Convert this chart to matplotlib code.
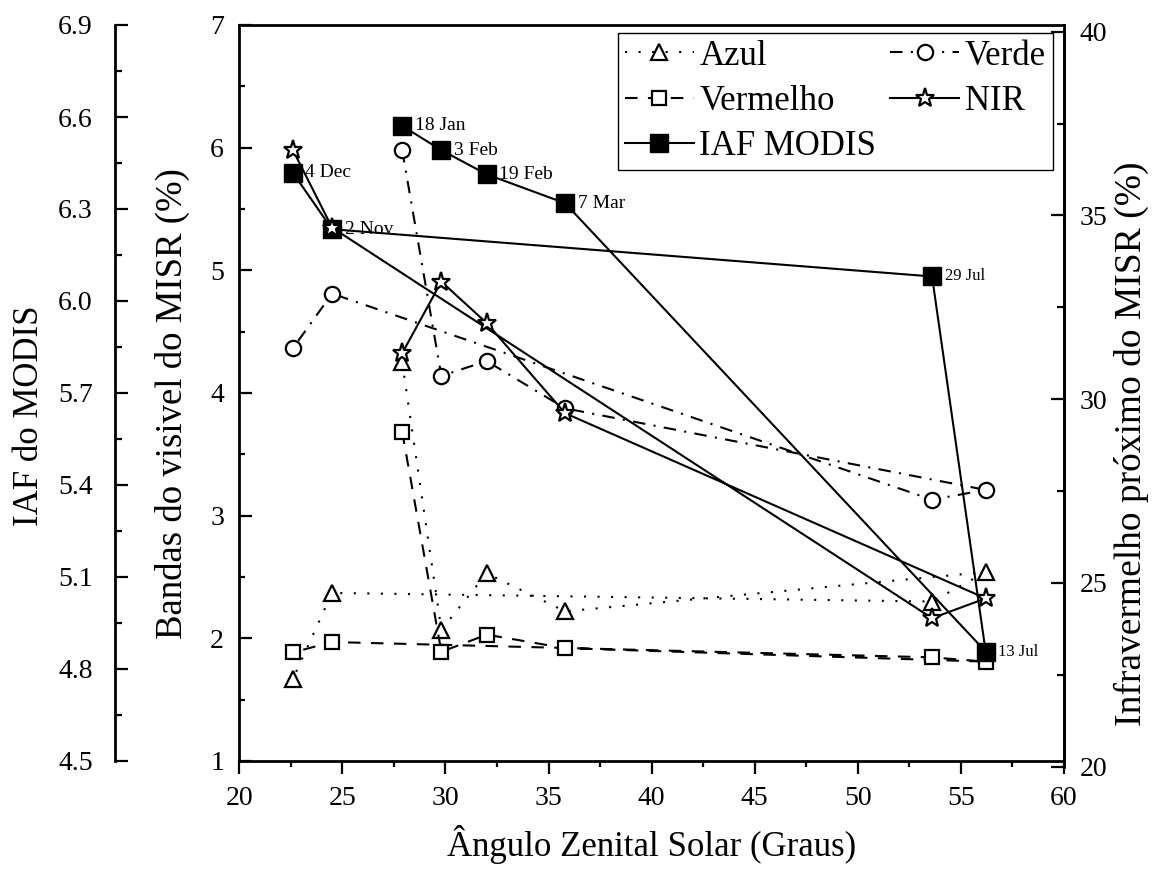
import matplotlib
matplotlib.use('Agg')
import matplotlib.pyplot as plt
from matplotlib.ticker import MultipleLocator, FormatStrFormatter

plt.rcParams['font.family'] = ['Liberation Serif', 'DejaVu Serif']

# dados (ordem cronologica das imagens)
datas = ['18 Jan', '3 Feb', '19 Feb', '7 Mar', '13 Jul', '29 Jul', '2 Nov', '4 Dec']
angulo = [27.9, 29.8, 32.0, 35.8, 56.2, 53.6, 24.5, 22.6]
azul = [4.25, 2.07, 2.53, 2.22, 2.54, 2.30, 2.37, 1.67]
verde = [5.98, 4.14, 4.26, 3.875, 3.21, 3.13, 4.81, 4.365]
vermelho = [3.685, 1.89, 2.03, 1.92, 1.81, 1.845, 1.97, 1.885]
nir = [31.25, 33.2, 32.07, 29.62, 24.58, 24.04, 34.67, 36.78]
iaf = [6.571, 6.492, 6.413, 6.319, 4.857, 6.08, 6.234, 6.418]
tam_rotulo = [14, 14, 14, 14, 12, 12, 14, 14]

W, H = 1152, 869
fig = plt.figure(figsize=(W / 100, H / 100), dpi=100)

L, R, T, B = 239.3, 1064.0, 25.0, 761.0
ax = fig.add_axes([L / W, 1 - B / H, (R - L) / W, (B - T) / H])
ax_iaf = ax.twinx()
ax_nir = fig.add_axes([L / W, 1 - 766.7 / H, (R - L) / W, (766.7 - 31.7) / H])

lw = 1.5
ms_open = 11
mew = 1.6

# bandas do visivel
l_az, = ax.plot(angulo, azul, color='black', lw=lw, ls=(0, (1, 5.5)), marker='^',
                ms=ms_open, mfc='white', mec='black', mew=mew, label='Azul')
l_vd, = ax.plot(angulo, verde, color='black', lw=lw, ls=(0, (6, 4, 1, 4)), marker='o',
                ms=ms_open, mfc='white', mec='black', mew=mew, label='Verde')
l_vm, = ax.plot(angulo, vermelho, color='black', lw=lw, ls=(0, (6, 5)), marker='s',
                ms=ms_open - 1, mfc='white', mec='black', mew=mew, label='Vermelho')

# IAF MODIS
l_iaf, = ax_iaf.plot(angulo, iaf, color='black', lw=lw, marker='s', ms=13,
                     mfc='black', mec='black', label='IAF MODIS')
for xi, yi, d, fs in zip(angulo, iaf, datas, tam_rotulo):
    ax_iaf.annotate(d, (xi, yi), xytext=(9, 0), textcoords='offset points',
                    ha='left', va='center', fontsize=fs)

# NIR
l_nir, = ax_nir.plot(angulo, nir, color='black', lw=lw, marker='*', ms=14,
                     mfc='white', mec='black', mew=mew, label='NIR')

# eixo principal
ax.set_xlim(20, 60)
ax.set_ylim(1, 7)
ax.xaxis.set_major_locator(MultipleLocator(5))
ax.xaxis.set_minor_locator(MultipleLocator(2.5))
ax.yaxis.set_major_locator(MultipleLocator(1))
ax.yaxis.set_minor_locator(MultipleLocator(0.5))
ax.tick_params(axis='x', which='both', direction='out', bottom=True, top=False,
               labelsize=20, pad=9)
ax.tick_params(axis='x', which='major', length=9, width=1.6)
ax.tick_params(axis='x', which='minor', length=4.5, width=1.6)
ax.tick_params(axis='y', which='both', direction='in', left=True, right=False,
               labelsize=20, pad=11)
ax.tick_params(axis='y', which='major', length=9, width=1.6)
ax.tick_params(axis='y', which='minor', length=4.5, width=1.6)
for s in ax.spines.values():
    s.set_linewidth(2)
ax.set_xlabel('Ângulo Zenital Solar (Graus)', fontsize=25)
ax.xaxis.set_label_coords(0.5, -0.114)
ax.xaxis.label.set_va('center')
ax.set_ylabel('Bandas do visivel do MISR (%)', fontsize=26.5)
ax.yaxis.set_label_coords(-0.081, 0.486)
ax.yaxis.label.set_va('center')

# eixo IAF (a esquerda)
ax_iaf.set_ylim(4.5, 6.9)
ax_iaf.yaxis.set_major_locator(MultipleLocator(0.3))
ax_iaf.yaxis.set_minor_locator(MultipleLocator(0.15))
ax_iaf.yaxis.set_major_formatter(FormatStrFormatter('%.1f'))
ax_iaf.yaxis.set_ticks_position('left')
ax_iaf.yaxis.set_label_position('left')
ax_iaf.spines['left'].set_position(('axes', -0.1507))
ax_iaf.spines['left'].set_visible(True)
ax_iaf.spines['left'].set_linewidth(2)
for k in ['right', 'top', 'bottom']:
    ax_iaf.spines[k].set_visible(False)
ax_iaf.tick_params(axis='y', which='both', direction='in', labelsize=20, pad=16)
ax_iaf.tick_params(axis='y', which='major', length=9.5, width=1.6)
ax_iaf.tick_params(axis='y', which='minor', length=5, width=1.6)
ax_iaf.set_ylabel('IAF do MODIS', fontsize=25)
ax_iaf.yaxis.set_label_coords(-0.254, 0.469)
ax_iaf.yaxis.label.set_va('center')

# eixo NIR (a direita)
ax_nir.patch.set_visible(False)
ax_nir.set_xlim(20, 60)
ax_nir.set_ylim(20, 40)
ax_nir.yaxis.set_major_locator(MultipleLocator(5))
ax_nir.yaxis.set_minor_locator(MultipleLocator(2.5))
ax_nir.yaxis.tick_right()
ax_nir.yaxis.set_label_position('right')
ax_nir.xaxis.set_visible(False)
for k in ['left', 'top', 'bottom']:
    ax_nir.spines[k].set_visible(False)
ax_nir.spines['right'].set_linewidth(2)
ax_nir.tick_params(axis='y', which='both', direction='in', labelsize=20, pad=11)
ax_nir.tick_params(axis='y', which='major', length=9.5, width=1.6)
ax_nir.tick_params(axis='y', which='minor', length=5, width=1.6)
ax_nir.set_ylabel('Infravermelho próximo do MISR (%)', fontsize=27)
ax_nir.yaxis.set_label_coords(1.082, 0.44)
ax_nir.yaxis.label.set_va('center')

leg = ax_nir.legend([l_az, l_vm, l_iaf, l_vd, l_nir],
                    ['Azul', 'Vermelho', 'IAF MODIS', 'Verde', 'NIR'],
                    ncol=2, loc='upper right', bbox_to_anchor=(1052.7 / W, 1 - 32.7 / H),
                    bbox_transform=fig.transFigure, borderaxespad=0, fontsize=25,
                    fancybox=False, framealpha=1, edgecolor='black', handlelength=2.0,
                    handletextpad=0.15, columnspacing=0.4, labelspacing=0.35,
                    borderpad=0.2, numpoints=1)
leg.get_frame().set_linewidth(1)
leg.set_zorder(10)

fig.savefig('out.png', dpi=100)
